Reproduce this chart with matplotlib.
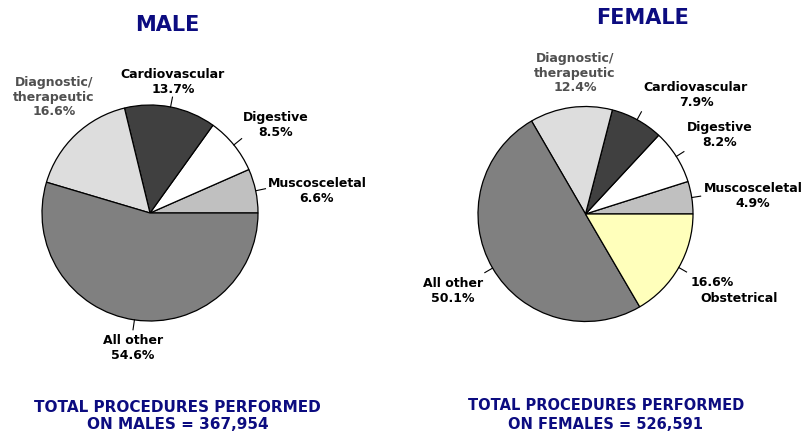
import numpy as np
import matplotlib.pyplot as plt

H = 432

male_labels = ["Muscosceletal", "Digestive", "Cardiovascular", "Diagnostic/\ntherapeutic", "All other"]
male_values = [6.6, 8.5, 13.7, 16.6, 54.6]
male_colors = ["#c0c0c0", "#ffffff", "#404040", "#dddddd", "#808080"]

female_labels = ["Muscosceletal", "Digestive", "Cardiovascular", "Diagnostic/\ntherapeutic", "All other", "Obstetrical"]
female_values = [4.9, 8.2, 7.9, 12.4, 50.1, 16.6]
female_colors = ["#c0c0c0", "#ffffff", "#404040", "#dddddd", "#808080", "#ffffbb"]

male_total = 367954
female_total = 526591

navy = "#0c0c80"

fig = plt.figure(figsize=(8.04, 4.32), dpi=100)
ax = fig.add_axes([0, 0, 1, 1])


def draw_pie(values, colors, cx, cy, r):
    ax.pie(values, colors=colors, startangle=0, counterclock=True,
           center=(cx, H - cy), radius=r,
           wedgeprops=dict(edgecolor="black", linewidth=0.9))
    # leader lines at slice middles
    cum = np.cumsum([0] + list(values))
    tot = cum[-1]
    mids = (cum[:-1] + cum[1:]) / 2 / tot * 2 * np.pi
    return mids


def leader(cx, cy, r, ang, l=10):
    x0 = cx + r * np.cos(ang); y0 = H - cy + r * np.sin(ang)
    x1 = cx + (r + l) * np.cos(ang); y1 = H - cy + (r + l) * np.sin(ang)
    ax.plot([x0, x1], [y0, y1], color="black", lw=0.8)


def lab(x, y, s, color="black", ha="center"):
    ax.text(x, H - y, s, ha=ha, va="center", fontsize=9, fontweight="bold",
            color=color, family="DejaVu Sans", linespacing=1.15)


# male
mcx, mcy, mr = 150, 213, 108
mm = draw_pie(male_values, male_colors, mcx, mcy, mr)
for i in [0, 1, 2, 4]:
    leader(mcx, mcy, mr, mm[i], 10)

lab(317, 191, f"{male_labels[0]}\n{male_values[0]:.1f}%")
lab(276, 125, f"{male_labels[1]}\n{male_values[1]:.1f}%")
lab(173, 82, f"{male_labels[2]}\n{male_values[2]:.1f}%")
lab(54, 97, f"{male_labels[3]}\n{male_values[3]:.1f}%", color="#505050")
lab(133, 348, f"{male_labels[4]}\n{male_values[4]:.1f}%")

# female
fcx, fcy, fr = 585.5, 214, 107.5
fm = draw_pie(female_values, female_colors, fcx, fcy, fr)
for i in [0, 1, 2, 4, 5]:
    leader(fcx, fcy, fr, fm[i], 9)

lab(753, 196, f"{female_labels[0]}\n{female_values[0]:.1f}%")
lab(720, 135, f"{female_labels[1]}\n{female_values[1]:.1f}%")
lab(696, 95, f"{female_labels[2]}\n{female_values[2]:.1f}%")
lab(575, 73, f"{female_labels[3]}\n{female_values[3]:.1f}%", color="#505050")
lab(453, 291, f"{female_labels[4]}\n{female_values[4]:.1f}%")
lab(712, 283, f"{female_values[5]:.1f}%")
lab(739, 298, female_labels[5])

# titles
ax.text(167, H - 25, "MALE", ha="center", va="center", fontsize=15,
        fontweight="bold", color=navy)
ax.text(643, H - 18, "FEMALE", ha="center", va="center", fontsize=15,
        fontweight="bold", color=navy)

# totals
ax.text(177.5, H - 412, "TOTAL PROCEDURES PERFORMED", ha="center", va="baseline",
        fontsize=11, fontweight="bold", color=navy)
ax.text(178, H - 429, f"ON MALES = {male_total:,}", ha="center", va="baseline",
        fontsize=11, fontweight="bold", color=navy)
ax.text(606, H - 410, "TOTAL PROCEDURES PERFORMED", ha="center", va="baseline",
        fontsize=10.5, fontweight="bold", color=navy)
ax.text(606, H - 429, f"ON FEMALES = {female_total:,}", ha="center", va="baseline",
        fontsize=10.5, fontweight="bold", color=navy)

ax.set_xlim(0, 804)
ax.set_ylim(0, H)
ax.set_aspect("auto")
ax.axis("off")

fig.savefig("out.png", dpi=100)
